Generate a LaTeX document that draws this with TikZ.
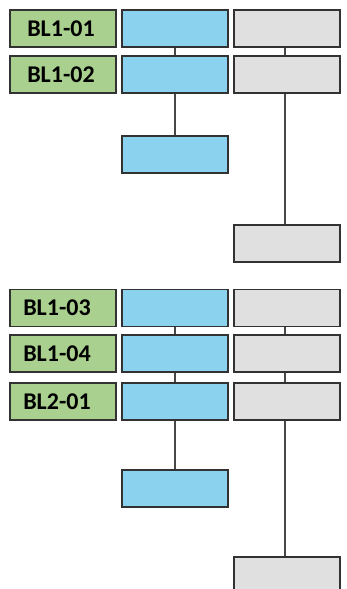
\documentclass[tikz,border=0pt]{standalone}
\usepackage{fontspec}
\setmainfont{Carlito}
\usepackage{tikz}
\usetikzlibrary{positioning}
\definecolor{labelgreen}{RGB}{169,208,142}
\definecolor{skyblue}{RGB}{139,210,238}
\definecolor{lightgray}{RGB}{224,224,224}
\definecolor{edgegray}{RGB}{50,50,50}

\tikzset{
	box/.style={draw=edgegray, line width=1.1pt, minimum width=106pt, minimum height=37pt, inner sep=0pt},
	label/.style={box, fill=labelgreen, font=\fontsize{24}{26}\selectfont\bfseries},
	bluebox/.style={box, fill=skyblue},
	graybox/.style={box, fill=lightgray},
	link/.style={draw=edgegray!90!white, line width=1.3pt}
}

\begin{document}
\begin{tikzpicture}[x=1pt,y=-1pt]
		\useasboundingbox (0,0) rectangle (347,589);
		
		% first group
		\node[label] (L1) at (63,28.5) {\hspace*{-4pt}BL1-01};
		\node[label] (L2) at (63,74.5) {\hspace*{-4pt}BL1-02};
		\node[bluebox] (B1) at (175,28.5) {};
		\node[bluebox] (B2) at (175,74.5) {};
		\node[bluebox] (B3) at (175,154.5) {};
		\node[graybox] (G1) at (287,28.5) {};
		\node[graybox] (G2) at (287,74.5) {};
		\node[graybox] (G3) at (287,243.5) {};
		
		\draw[link] (B1.south) -- (B2.north);
		\draw[link] (B2.south) -- (B3.north);
		\draw[link] ([xshift=-2pt]G1.south) -- ([xshift=-2pt]G2.north);
		\draw[link] ([xshift=-2pt]G2.south) -- ([xshift=-2pt]G3.north);
		
		% second group
		\node[label] (L3) at (63,308) {\hspace*{-12pt}BL1-03};
		\node[label] (L4) at (63,353.5) {\hspace*{-12pt}BL1-04};
		\node[label] (L5) at (63,401.5) {\hspace*{-12pt}BL2-01};
		\node[bluebox] (B4) at (175,308) {};
		\node[bluebox] (B5) at (175,353.5) {};
		\node[bluebox] (B6) at (175,401.5) {};
		\node[bluebox] (B7) at (175,488.5) {};
		\node[graybox] (G4) at (287,308) {};
		\node[graybox] (G5) at (287,353.5) {};
		\node[graybox] (G6) at (287,401.5) {};
		\node[graybox] (G7) at (287,575.5) {};
		
		\draw[link] (B4.south) -- (B5.north);
		\draw[link] (B5.south) -- (B6.north);
		\draw[link] (B6.south) -- (B7.north);
		\draw[link] ([xshift=-2pt]G4.south) -- ([xshift=-2pt]G5.north);
		\draw[link] ([xshift=-2pt]G5.south) -- ([xshift=-2pt]G6.north);
		\draw[link] ([xshift=-2pt]G6.south) -- ([xshift=-2pt]G7.north);
		
\end{tikzpicture}
\end{document}
